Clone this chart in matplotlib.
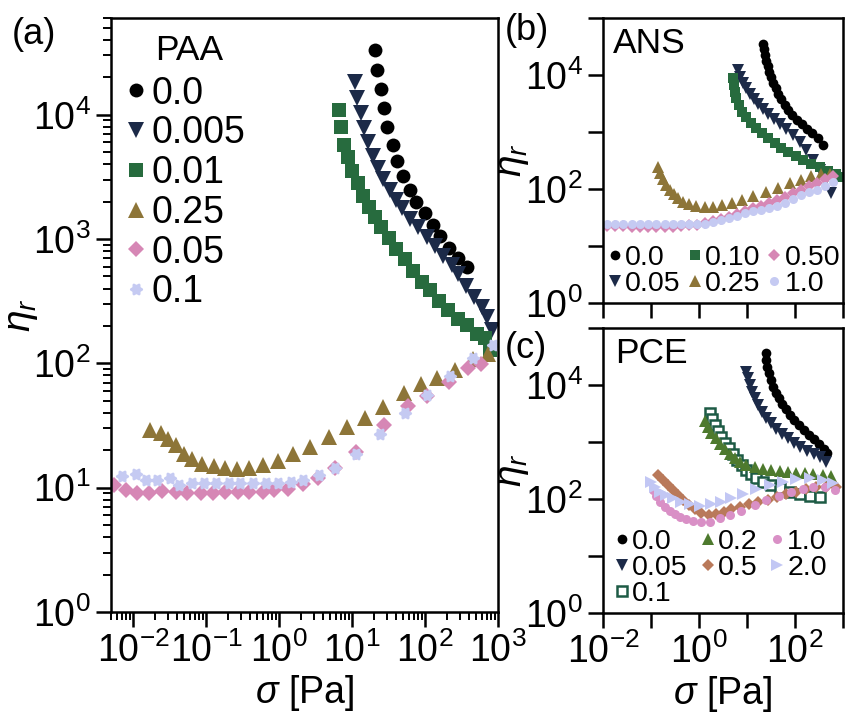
import numpy as np
import matplotlib
matplotlib.use('Agg')
import matplotlib.pyplot as plt
from matplotlib.path import Path
from matplotlib.ticker import LogLocator, NullFormatter, FuncFormatter, NullLocator

plt.rcParams['font.family'] = ['Liberation Sans', 'DejaVu Sans']
plt.rcParams['mathtext.fontset'] = 'custom'
plt.rcParams['mathtext.rm'] = 'Liberation Sans'
plt.rcParams['mathtext.it'] = 'Liberation Sans:italic'
plt.rcParams['mathtext.bf'] = 'Liberation Sans:bold'

# ---------------- Panel (a): PAA ----------------
paa_labels = ['0.0', '0.005', '0.01', '0.25', '0.05', '0.1']

paa_00_x = [20.4, 22.0, 24.7, 27.4, 30.5, 36.5, 41.4, 50.0, 61.8, 76.4, 99.3, 127, 163, 214, 285, 372]
paa_00_y = [33300, 22850, 16070, 11240, 7910, 5740, 4250, 3240, 2480, 2000, 1610, 1300, 1050, 855, 706, 593]

paa_0005_x = [10.9, 11.7, 13.1, 14.7, 16.6, 19.2, 22.5, 26.3, 32.8, 39.7, 48.0, 61.8, 79.6, 106, 136,
              176, 233, 282, 363, 468, 603, 706, 826]
paa_0005_y = [18400, 13700, 10400, 7870, 6070, 4690, 3750, 3060, 2500, 2080, 1780, 1460, 1240, 1047, 887,
              737, 624, 528, 423, 345, 282, 234, 184]

paa_001_x = [6.61, 7.13, 7.74, 8.79, 10.1, 12.1, 14.1, 17.1, 20.4, 25.2, 32.1, 40.6, 52.8, 68.7, 89.6,
             116, 156, 208, 285, 372, 510, 663, 776]
paa_001_y = [10900, 8010, 5740, 4540, 3550, 2810, 2235, 1800, 1496, 1244, 1023, 834, 693, 558, 450,
             386, 320, 267, 229, 202, 173, 159, 127]

paa_025_x = [0.0171, 0.0240, 0.0305, 0.0386, 0.0502, 0.0653, 0.0895, 0.127, 0.182, 0.262, 0.392, 0.597,
             0.959, 1.54, 2.67, 4.77, 8.51, 14.9, 26.6, 51.2, 87.5, 144, 257, 458, 736]
paa_025_y = [29.3, 27.5, 24.8, 21.9, 18.8, 16.9, 15.6, 14.9, 14.4, 14.2, 14.3, 15.2,
             16.3, 18.5, 21.3, 25.6, 30.5, 36.6, 44.6, 57.7, 68.7, 76.7, 87.9, 109, 120]

paa_005_x = [0.00548, 0.00794, 0.0115, 0.0166, 0.0252, 0.0386, 0.0557, 0.0851, 0.123, 0.184, 0.271, 0.392,
             0.597, 0.865, 1.32, 2.12, 3.40, 5.90, 11.5, 27.2, 58.6, 106, 212, 391, 584]
paa_005_y = [10.5, 9.55, 9.08, 8.98, 9.43, 9.25, 9.08, 9.08, 9.08, 9.25, 9.25, 9.25,
             9.25, 9.55, 9.85, 10.7, 11.9, 14.3, 19.4, 32.2, 45.6, 54.3, 71.0, 92.0, 98.2]

paa_01_x = [0.00713, 0.0109, 0.0149, 0.0216, 0.0319, 0.0429, 0.0640, 0.0944, 0.137, 0.204, 0.292, 0.436,
            0.665, 0.959, 1.47, 2.16, 3.51, 5.90, 11.2, 23.9, 52.8, 107, 219, 458, 845]
paa_01_y = [12.4, 13.0, 11.6, 11.5, 12.0, 10.5, 10.9, 10.9, 10.9, 10.9, 10.9, 10.9,
            10.9, 10.9, 11.1, 11.6, 12.6, 14.3, 18.6, 27.2, 39.9, 55.3, 78.7, 111, 140]

# ---------------- Panel (b): ANS ----------------
ans_labels = ['0.0', '0.05', '0.10', '0.25', '0.50', '1.0']

ans_00_x = [21.5, 22.6, 23.7, 25.3, 27.0, 29.2, 32.1, 35.3, 39.6, 44.9, 51.9, 61.0, 72.5, 87.8, 110,
            138, 178, 229, 301, 383]
ans_00_y = [35000, 28200, 22400, 17800, 14400, 11400, 9120, 7330, 5850, 4640, 3750, 2980, 2430, 1990, 1620,
            1370, 1130, 949, 775, 592]

ans_005_x = [6.49, 7.25, 8.25, 9.67, 11.5, 13.8, 16.9, 21.5, 27.4, 36.0, 48.0, 65.9, 90.8, 125, 169,
             237, 332, 442, 562]
ans_005_y = [12200, 9330, 7330, 5850, 4640, 3750, 3100, 2500, 2070, 1670, 1380, 1115, 886, 676, 483,
             323, 215, 144, 85]

ans_010_x = [5.11, 5.28, 5.54, 5.98, 6.81, 7.98, 9.67, 12.3, 15.6, 20.8, 27.4, 37.8, 51.9, 71.5, 103,
             147, 219, 327, 487, 725, 878]
ans_010_y = [8750, 6680, 5090, 3900, 2980, 2270, 1810, 1420, 1160, 949, 775, 634, 530, 451, 379,
             323, 275, 240, 210, 183, 164]

ans_025_x = [0.140, 0.156, 0.178, 0.208, 0.246, 0.297, 0.365, 0.464, 0.619, 0.880, 1.32, 1.96, 3.06,
             4.94, 7.98, 13.3, 24.5, 44.2, 77.6, 132, 219, 353, 528]
ans_025_y = [240, 189, 148, 118, 96, 80.7, 68.7, 59.9, 53.9, 50.3, 48.9, 48.9, 52.4,
             57.5, 64.1, 75.4, 89.7, 103, 126, 144, 169, 183, 183]

ans_050_x = [0.0121, 0.0178, 0.0261, 0.0402, 0.0590, 0.0866, 0.127, 0.196, 0.287, 0.422, 0.619, 0.909,
             1.33, 1.96, 2.87, 4.22, 6.19, 9.09, 13.3, 19.6, 28.7, 42.2, 61.9, 90.9, 133, 196, 287, 422, 619]
ans_050_y = [22.4, 22.4, 22.0, 21.5, 21.5, 21.5, 21.5, 21.5, 21.5, 22.0, 22.9, 23.8,
             25.3, 27.5, 29.8, 32.7, 36.4, 41.1, 45.5, 50.3, 56.8, 64.1, 72.4, 85.1, 96, 111, 127, 147, 169]

ans_10_x = [0.0121, 0.0178, 0.0261, 0.0402, 0.0590, 0.0866, 0.127, 0.196, 0.287, 0.422, 0.619, 0.909,
            1.33, 1.96, 2.87, 4.22, 6.19, 9.09, 13.3, 19.6, 28.7, 42.2, 61.9, 90.9, 133, 196, 287, 422, 619]
ans_10_y = [24.3, 24.3, 24.3, 24.3, 24.3, 24.3, 24.3, 24.3, 24.3, 24.3, 24.3, 24.3,
            24.8, 26.4, 28.6, 31.0, 33.6, 37.2, 41.1, 42.8, 45.5, 50.3, 56.8, 65.5, 78.5, 88.5, 98, 113, 133]

# ---------------- Panel (c): PCE ----------------
pce_labels = ['0.0', '0.05', '0.1', '0.2', '0.5', '1.0', '2.0']

pce_00_x = [24.5, 25.3, 26.5, 28.7, 31.2, 34.8, 39.6, 45.7, 53.6, 64.0, 77.6, 95.3, 121, 154, 196,
            249, 316, 396, 464]
pce_00_y = [36900, 27500, 20900, 16000, 12200, 9330, 7330, 5850, 4640, 3750, 2980, 2430, 1990, 1620, 1330,
            1115, 922, 745, 634]

pce_005_x = [9.67, 10.5, 11.4, 12.7, 14.5, 16.9, 20.5, 25.3, 32.1, 40.8, 53.6, 71.5, 95.3, 129, 178,
             245, 337, 449]
pce_005_y = [17100, 13100, 10000, 7630, 5850, 4460, 3400, 2670, 2130, 1690, 1380, 1160, 973, 828, 703,
             615, 539, 451]

pce_01_x = [1.72, 1.89, 2.12, 2.49, 2.92, 3.43, 4.22, 5.11, 6.28, 7.87, 9.67, 12.3, 15.6, 21.5, 32.1,
            48.0, 77.6, 125, 203, 327]
pce_01_y = [3190, 2500, 1990, 1580, 1240, 973, 775, 615, 483, 395, 323, 271, 231, 201, 176,
            154, 134, 122, 113, 110]

pce_02_x = [1.32, 1.54, 1.80, 2.23, 2.70, 3.43, 4.36, 5.54, 7.05, 9.67, 14.5, 21.5, 32.1, 48.0, 71.5,
            106, 159, 237, 383, 570]
pce_02_y = [2360, 1850, 1460, 1160, 922, 745, 615, 517, 451, 395, 360, 336, 323, 314, 301,
            289, 282, 275, 264, 253]

pce_05_x = [0.140, 0.178, 0.226, 0.287, 0.365, 0.464, 0.619, 0.813, 1.12, 1.62, 2.29, 3.27, 4.71,
            7.05, 11.0, 16.9, 27.4, 42.2, 65.9, 103, 172, 278, 449, 725]
pce_05_y = [264, 215, 176, 144, 118, 96, 78.5, 65.9, 56.1, 52.4, 54.6, 59.9, 65.9,
            73.3, 81.7, 89.7, 96, 110, 122, 134, 148, 164, 164, 160]

pce_10_x = [0.110, 0.129, 0.156, 0.193, 0.246, 0.312, 0.407, 0.543, 0.750, 1.12, 1.67, 2.70, 4.36,
            7.60, 14.5, 25.3, 46.4, 83.8, 147, 237, 416, 671]
pce_10_y = [144, 113, 89.7, 73.3, 62.4, 54.6, 48.9, 44.0, 41.1, 40.0, 40.0, 45.8, 52.4,
            62.4, 78.5, 96, 114, 134, 148, 160, 164, 144]

pce_20_x = [0.101, 0.119, 0.152, 0.202, 0.287, 0.428, 0.659, 1.06, 1.80, 2.92, 4.71, 8.25, 15.6,
            29.7, 56.2, 106, 203, 383, 619]
pce_20_y = [201, 160, 134, 118, 103, 89.7, 81.7, 75.4, 81.7, 89.7, 103, 122, 148,
            176, 201, 222, 231, 215, 189]

# ---------------- styles ----------------
C_BLACK = '#000000'
C_NAVY = '#1c2a48'
C_GREEN = '#276b3e'
C_OLIVE = '#8d7538'
C_PINK = '#d687b5'
C_LAV = '#c5caf2'
C_GREEN2 = '#4e7a2e'
C_TEAL = '#1d5b45'
C_BROWN = '#b9795a'
C_PINK2 = '#d990c6'
C_LAV2 = '#c2c7f4'

th = np.linspace(0, 2 * np.pi, 121)
rr = 0.86 + 0.14 * np.cos(6 * th)
FLOWER = Path(np.column_stack([rr * np.cos(th), rr * np.sin(th)]), closed=True)

fig = plt.figure(figsize=(8.49, 7.15), dpi=100)
W, H = 849, 715


def fax(l, t, r, b):
    return fig.add_axes([l / W, 1 - b / H, (r - l) / W, (b - t) / H])


axa = fax(111, 18, 498, 612)
axb = fax(603, 18, 843, 303)
axc = fax(603, 328, 843, 613)

for ax in (axa, axb, axc):
    ax.set_xscale('log')
    ax.set_yscale('log')
    for s in ax.spines.values():
        s.set_linewidth(1.8)

# Panel a
ms_a = 10
axa.plot(paa_00_x, paa_00_y, 'o', color=C_BLACK, ms=ms_a, mew=0, label=paa_labels[0])
axa.plot(paa_0005_x, paa_0005_y, 'v', color=C_NAVY, ms=ms_a + 1, mew=0, label=paa_labels[1])
axa.plot(paa_001_x, paa_001_y, 's', color=C_GREEN, ms=ms_a - 0.5, mew=0, label=paa_labels[2])
axa.plot(paa_025_x, paa_025_y, '^', color=C_OLIVE, ms=ms_a + 1, mew=0, label=paa_labels[3])
axa.plot(paa_005_x, paa_005_y, 'D', color=C_PINK, ms=ms_a - 2, mew=0, label=paa_labels[4])
axa.plot(paa_01_x, paa_01_y, marker=FLOWER, ls='none', color=C_LAV, ms=ms_a - 0.5, mew=0, label=paa_labels[5])

axa.set_xlim(5e-3, 1e3)
axa.set_ylim(1, 6e4)
axa.xaxis.set_major_locator(LogLocator(base=10, numticks=20))
axa.xaxis.set_minor_locator(LogLocator(base=10, subs=np.arange(2, 10), numticks=50))
axa.yaxis.set_major_locator(LogLocator(base=10, numticks=20))
axa.yaxis.set_minor_locator(LogLocator(base=10, subs=np.arange(2, 10), numticks=50))
axa.xaxis.set_minor_formatter(NullFormatter())
axa.yaxis.set_minor_formatter(NullFormatter())
axa.tick_params(which='major', length=11, width=1.8, labelsize=27, direction='out')
axa.tick_params(which='minor', length=6, width=1.4, direction='out')
axa.set_xlabel(r'$\sigma$ [Pa]', fontsize=27)
axa.xaxis.set_label_coords(0.50, -0.103)
axa.set_ylabel(r'$\eta_r$', fontsize=28)
axa.yaxis.set_label_coords(-0.183, 0.5)

leg = axa.legend(loc='upper left', bbox_to_anchor=(0.035, 0.903), frameon=False, fontsize=27,
                 handlelength=0.6, handletextpad=0.12, labelspacing=0.1, borderpad=0, borderaxespad=0,
                 markerscale=1.0)
axa.text(0.114, 0.946, 'PAA', transform=axa.transAxes, fontsize=25.5, ha='left', va='center')
fig.text(12 / W, 1 - 35 / H, '(a)', fontsize=26, ha='left', va='center')


def even_fmt(v, pos):
    e = int(round(np.log10(v)))
    if e % 2 == 0:
        return r'$\mathdefault{10^{%d}}$' % e
    return ''


def setup_small(ax, xlabels):
    ax.set_xlim(1e-2, 1e3)
    ax.set_ylim(1, 1e5)
    ax.xaxis.set_major_locator(LogLocator(base=10, numticks=20))
    ax.yaxis.set_major_locator(LogLocator(base=10, numticks=20))
    ax.xaxis.set_minor_locator(NullLocator())
    ax.yaxis.set_minor_locator(NullLocator())
    ax.yaxis.set_major_formatter(FuncFormatter(even_fmt))
    if xlabels:
        ax.xaxis.set_major_formatter(FuncFormatter(even_fmt))
    else:
        ax.xaxis.set_major_formatter(NullFormatter())
    ax.tick_params(which='major', length=11, width=1.8, labelsize=27, direction='out')
    ax.set_ylabel(r'$\eta_r$', fontsize=28)
    ax.yaxis.set_label_coords(-0.30, 0.5)


ms_s = 7
axb.plot(ans_00_x, ans_00_y, 'o', color=C_BLACK, ms=ms_s, mew=0, label=ans_labels[0])
axb.plot(ans_005_x, ans_005_y, 'v', color=C_NAVY, ms=ms_s + 1, mew=0, label=ans_labels[1])
axb.plot(ans_010_x, ans_010_y, 's', color=C_GREEN, ms=ms_s, mew=0, label=ans_labels[2])
axb.plot(ans_025_x, ans_025_y, '^', color=C_OLIVE, ms=ms_s + 1, mew=0, label=ans_labels[3])
axb.plot(ans_050_x, ans_050_y, 'D', color=C_PINK, ms=ms_s - 1, mew=0, label=ans_labels[4])
axb.plot(ans_10_x, ans_10_y, 'o', color=C_LAV, ms=ms_s - 0.5, mew=0, label=ans_labels[5])
setup_small(axb, False)
axb.legend(loc='lower left', bbox_to_anchor=(0.02, 0.02), ncol=3, frameon=False, fontsize=20.5,
           handlelength=0.5, handletextpad=0.1, labelspacing=0.0, columnspacing=0.25, borderpad=0,
           borderaxespad=0)
axb.text(0.042, 0.912, 'ANS', transform=axb.transAxes, fontsize=25.5, ha='left', va='center')
fig.text(505 / W, 1 - 31 / H, '(b)', fontsize=26, ha='left', va='center')

axc.plot(pce_00_x, pce_00_y, 'o', color=C_BLACK, ms=ms_s, mew=0, label=pce_labels[0])
axc.plot(pce_005_x, pce_005_y, 'v', color=C_NAVY, ms=ms_s + 1, mew=0, label=pce_labels[1])
axc.plot(pce_01_x, pce_01_y, 's', mfc='white', mec=C_TEAL, ms=ms_s - 0.5, mew=1.8, ls='none',
         label=pce_labels[2])
axc.plot(pce_02_x, pce_02_y, '^', color=C_GREEN2, ms=ms_s + 1, mew=0, label=pce_labels[3])
axc.plot(pce_05_x, pce_05_y, 'D', color=C_BROWN, ms=ms_s - 1, mew=0, label=pce_labels[4])
axc.plot(pce_10_x, pce_10_y, 'o', color=C_PINK2, ms=ms_s - 0.5, mew=0, label=pce_labels[5])
axc.plot(pce_20_x, pce_20_y, '>', color=C_LAV2, ms=ms_s + 1, mew=0, label=pce_labels[6])
setup_small(axc, True)
axc.set_xlabel(r'$\sigma$ [Pa]', fontsize=27)
axc.xaxis.set_label_coords(0.496, -0.213)
axc.legend(loc='lower left', bbox_to_anchor=(0.05, 0.02), ncol=3, frameon=False, fontsize=20.5,
           handlelength=0.5, handletextpad=0.1, labelspacing=0.0, columnspacing=0.45, borderpad=0,
           borderaxespad=0)
axc.text(0.05, 0.909, 'PCE', transform=axc.transAxes, fontsize=25.5, ha='left', va='center')
fig.text(505 / W, 1 - 348 / H, '(c)', fontsize=26, ha='left', va='center')

fig.savefig('out.png', dpi=100)
